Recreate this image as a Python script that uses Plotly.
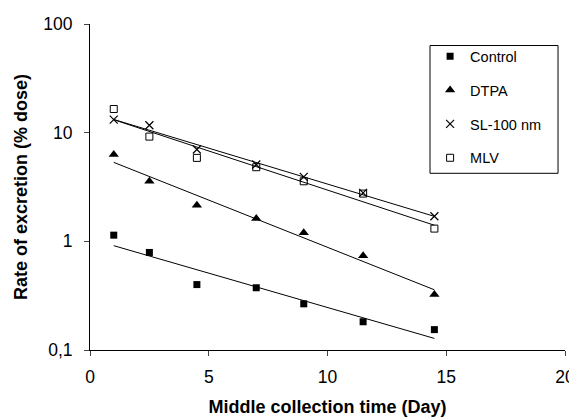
import numpy as np
import plotly.graph_objects as go

days = [1, 2.5, 4.5, 7, 9, 11.5, 14.5]
control = [1.14, 0.79, 0.40, 0.374, 0.266, 0.182, 0.154]
dtpa = [6.3, 3.57, 2.15, 1.62, 1.20, 0.736, 0.325]
sl100 = [13.2, 11.7, 7.0, 5.09, 3.92, 2.79, 1.70]
mlv = [16.5, 9.2, 5.86, 4.81, 3.57, 2.75, 1.31]

series_names = ["Control", "DTPA", "SL-100 nm", "MLV"]
y_tickvals = [0.1, 1, 10, 100]
y_ticktext = ["0,1", "1", "10", "100"]
x_tickvals = [0, 5, 10, 15, 20]

markers = [
    dict(symbol="square", size=7, color="black"),
    dict(symbol="triangle-up", size=9, color="black"),
    dict(symbol="x-thin-open", size=8, color="black", line=dict(width=1.2, color="black")),
    dict(symbol="square-open", size=7, color="black", line=dict(width=1, color="black")),
]

fig = go.Figure()
x = np.array(days, dtype=float)
xfit = np.linspace(x.min(), x.max(), 50)
for i, (name, vals) in enumerate(zip(series_names, [control, dtpa, sl100, mlv])):
    fig.add_trace(go.Scatter(x=days, y=vals, mode="markers", name=name,
                             marker=markers[i], legendgroup=name, showlegend=True))
    b, a = np.polyfit(x, np.log(np.array(vals)), 1)
    fig.add_trace(go.Scatter(x=xfit, y=np.exp(a + b * xfit), mode="lines",
                             line=dict(color="black", width=1), showlegend=False,
                             legendgroup=name, hoverinfo="skip"))

# legend frame
fig.add_shape(type="rect", xref="paper", yref="paper",
              x0=0.7158, x1=0.9853, y0=0.542, y1=0.934,
              line=dict(color="black", width=1), fillcolor="rgba(0,0,0,0)")

fig.update_layout(
    width=577, height=420,
    margin=dict(l=82, r=20, t=16, b=78),
    paper_bgcolor="white", plot_bgcolor="white",
    font=dict(family="Liberation Sans, Arial, sans-serif", color="black", size=17),
    showlegend=True,
    legend=dict(x=0.716, y=0.950, xanchor="left", yanchor="top",
                borderwidth=0, bgcolor="rgba(0,0,0,0)",
                font=dict(size=14.5), tracegroupgap=12, itemwidth=30),
)
fig.update_xaxes(range=[0, 20], tickvals=x_tickvals, ticks="outside", ticklen=5,
                 showline=True, linecolor="black", linewidth=1, showgrid=False,
                 zeroline=False, tickfont=dict(size=17.5), automargin=False,
                 ticklabelstandoff=6,
                 title=dict(text="<b>Middle collection time (Day)</b>", font=dict(size=18), standoff=14))
fig.update_yaxes(type="log", range=[-1, 2], tickvals=y_tickvals, ticktext=y_ticktext,
                 ticks="outside", ticklen=5, showline=True, linecolor="black", linewidth=1,
                 showgrid=False, zeroline=False, tickfont=dict(size=17.5), automargin=False,
                 ticklabelstandoff=8,
                 title=dict(text="<b>Rate of excretion (% dose)</b>", font=dict(size=18), standoff=10))

fig.write_html("out.html")
